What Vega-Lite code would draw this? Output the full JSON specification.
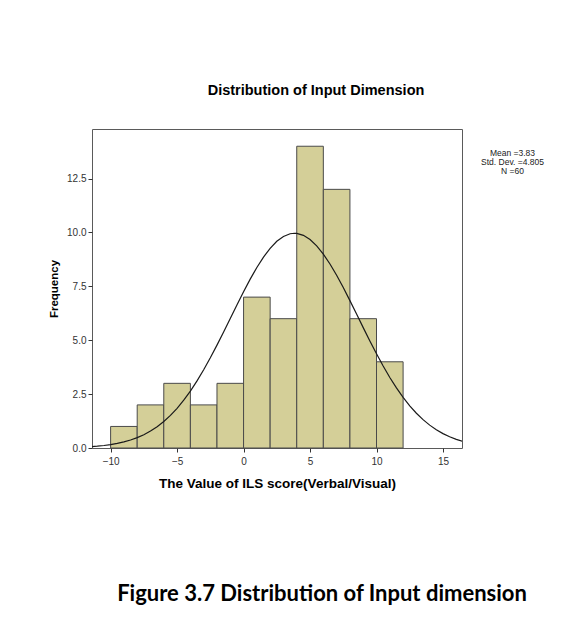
{
  "$schema": "https://vega.github.io/schema/vega-lite/v6.json",
  "background": "white",
  "padding": {"left": 48, "top": 82, "right": 5, "bottom": 5},
  "title": {
    "text": "Figure 3.7 Distribution of Input dimension",
    "orient": "bottom",
    "anchor": "middle",
    "font": "Lato",
    "fontSize": 22,
    "fontWeight": "bold",
    "color": "#000000",
    "offset": 94,
    "dx": 26
  },
  "datasets": {
    "bins": [
      {"bin_start": -10, "bin_end": -8, "count": 1},
      {"bin_start": -8, "bin_end": -6, "count": 2},
      {"bin_start": -6, "bin_end": -4, "count": 3},
      {"bin_start": -4, "bin_end": -2, "count": 2},
      {"bin_start": -2, "bin_end": 0, "count": 3},
      {"bin_start": 0, "bin_end": 2, "count": 7},
      {"bin_start": 2, "bin_end": 4, "count": 6},
      {"bin_start": 4, "bin_end": 6, "count": 14},
      {"bin_start": 6, "bin_end": 8, "count": 12},
      {"bin_start": 8, "bin_end": 10, "count": 6},
      {"bin_start": 10, "bin_end": 12, "count": 4}
    ],
    "curve": [
      {"x": -11.5, "density": 0.061},
      {"x": -11, "density": 0.085},
      {"x": -10.5, "density": 0.117},
      {"x": -10, "density": 0.158},
      {"x": -9.5, "density": 0.212},
      {"x": -9, "density": 0.282},
      {"x": -8.5, "density": 0.370},
      {"x": -8, "density": 0.481},
      {"x": -7.5, "density": 0.618},
      {"x": -7, "density": 0.786},
      {"x": -6.5, "density": 0.988},
      {"x": -6, "density": 1.229},
      {"x": -5.5, "density": 1.513},
      {"x": -5, "density": 1.841},
      {"x": -4.5, "density": 2.217},
      {"x": -4, "density": 2.641},
      {"x": -3.5, "density": 3.112},
      {"x": -3, "density": 3.628},
      {"x": -2.5, "density": 4.184},
      {"x": -2, "density": 4.772},
      {"x": -1.5, "density": 5.385},
      {"x": -1, "density": 6.012},
      {"x": -0.5, "density": 6.639},
      {"x": 0, "density": 7.252},
      {"x": 0.5, "density": 7.836},
      {"x": 1, "density": 8.377},
      {"x": 1.5, "density": 8.858},
      {"x": 2, "density": 9.266},
      {"x": 2.5, "density": 9.589},
      {"x": 3, "density": 9.815},
      {"x": 3.5, "density": 9.940},
      {"x": 3.83, "density": 9.963},
      {"x": 4, "density": 9.957},
      {"x": 4.5, "density": 9.867},
      {"x": 5, "density": 9.672},
      {"x": 5.5, "density": 9.379},
      {"x": 6, "density": 8.997},
      {"x": 6.5, "density": 8.538},
      {"x": 7, "density": 8.015},
      {"x": 7.5, "density": 7.443},
      {"x": 8, "density": 6.837},
      {"x": 8.5, "density": 6.213},
      {"x": 9, "density": 5.585},
      {"x": 9.5, "density": 4.966},
      {"x": 10, "density": 4.369},
      {"x": 10.5, "density": 3.802},
      {"x": 11, "density": 3.273},
      {"x": 11.5, "density": 2.787},
      {"x": 12, "density": 2.348},
      {"x": 12.5, "density": 1.956},
      {"x": 13, "density": 1.613},
      {"x": 13.5, "density": 1.315},
      {"x": 14, "density": 1.061},
      {"x": 14.5, "density": 0.847},
      {"x": 15, "density": 0.668},
      {"x": 15.5, "density": 0.522},
      {"x": 16, "density": 0.403},
      {"x": 16.5, "density": 0.308}
    ],
    "stats": [
      {"label": "Mean =3.83"},
      {"label": "Std. Dev. =4.805"},
      {"label": "N =60"}
    ]
  },
  "vconcat": [
    {
      "title": {
        "text": "Distribution of Input Dimension",
        "anchor": "middle",
        "frame": "group",
        "font": "Liberation Sans",
        "fontSize": 14.5,
        "fontWeight": "bold",
        "color": "#000000",
        "offset": 31,
        "dx": 39
      },
      "width": 370,
      "height": 319,
      "layer": [
        {
          "data": {"name": "bins"},
          "mark": {"type": "rect", "fill": "#d4cf98", "stroke": "#4a4a4a", "strokeWidth": 1},
          "encoding": {
            "x": {
              "field": "bin_start",
              "type": "quantitative",
              "scale": {"domain": [-11.4, 16.43], "nice": false, "zero": false},
              "axis": {
                "title": "The Value of ILS score(Verbal/Visual)",
                "values": [-10, -5, 0, 5, 10, 15],
                "labelPadding": 4,
                "titlePadding": 10,
                "titleFontSize": 13.5
              }
            },
            "x2": {"field": "bin_end"},
            "y": {
              "field": "count",
              "type": "quantitative",
              "scale": {"domain": [0, 14.8], "nice": false},
              "axis": {
                "title": "Frequency",
                "values": [0, 2.5, 5, 7.5, 10, 12.5],
                "format": ".1f",
                "labelPadding": 2,
                "titlePadding": 7,
                "titleFontSize": 11.5
              }
            }
          }
        },
        {
          "data": {"name": "curve"},
          "mark": {"type": "line", "color": "#1a1a1a", "strokeWidth": 1.2, "clip": true},
          "encoding": {
            "x": {"field": "x", "type": "quantitative"},
            "y": {"field": "density", "type": "quantitative"}
          }
        },
        {
          "data": {"name": "stats"},
          "mark": {"type": "point", "opacity": 0},
          "encoding": {
            "color": {
              "field": "label",
              "type": "nominal",
              "scale": {
                "domain": ["Mean =3.83", "Std. Dev. =4.805", "N =60"],
                "range": ["#000000", "#000000", "#000000"]
              },
              "legend": {
                "orient": "none",
                "legendX": 412,
                "legendY": 19.5,
                "title": null,
                "symbolSize": 0,
                "symbolOpacity": 0,
                "symbolStrokeWidth": 0,
                "labelFont": "Liberation Sans",
                "labelFontSize": 8.5,
                "labelColor": "#222222",
                "labelAlign": "center",
                "labelOffset": 0,
                "rowPadding": -2.5,
                "padding": 0
              }
            }
          }
        }
      ]
    }
  ],
  "config": {
    "view": {"fill": "#f0f0f0", "stroke": "#5a5a5a", "strokeWidth": 1},
    "concat": {"spacing": 0},
    "axis": {
      "grid": false,
      "domain": false,
      "tickSize": 4,
      "tickColor": "#333333",
      "labelFont": "Liberation Sans",
      "labelFontSize": 10,
      "labelColor": "#333333",
      "titleFont": "Liberation Sans",
      "titleFontWeight": "bold",
      "titleColor": "#000000"
    }
  }
}
